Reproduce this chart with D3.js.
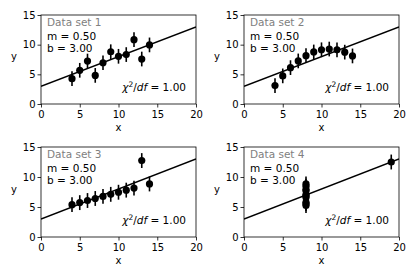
<!DOCTYPE html>
<html><head><meta charset="utf-8">
<script src="https://cdn.jsdelivr.net/npm/d3@7"></script>
<style>body{margin:0;background:#fff}text{font-family:"DejaVu Sans",sans-serif}</style>
</head><body><svg id="c" width="415" height="277"></svg>
<script>
const x123 = [10, 8, 13, 9, 11, 14, 6, 4, 12, 7, 5];
const x4 = [8, 8, 8, 8, 8, 8, 8, 19, 8, 8, 8];
const y1 = [8.04, 6.95, 7.58, 8.81, 8.33, 9.96, 7.24, 4.26, 10.84, 4.82, 5.68];
const y2 = [9.14, 8.14, 8.74, 8.77, 9.26, 8.10, 6.13, 3.10, 9.13, 7.26, 4.74];
const y3 = [7.46, 6.77, 12.74, 7.11, 7.81, 8.84, 6.08, 5.39, 8.15, 6.42, 5.73];
const y4 = [6.58, 5.76, 7.71, 8.84, 8.47, 7.04, 5.25, 12.50, 5.56, 7.91, 6.89];
const yErr = 1.24;
const slope = 0.5, intercept = 3.0;
const titles = ["Data set 1", "Data set 2", "Data set 3", "Data set 4"];
const xTicks = [0, 5, 10, 15, 20];
const yTicks = [0, 5, 10, 15];
const sets = [[x123, y1], [x123, y2], [x123, y3], [x4, y4]];

const svg = d3.select("#c");
const cols = [[41, 196], [244, 399]];
const rows = [[15, 104], [147, 237]];

sets.forEach((s, i) => {
  const [xr, yr] = [cols[i % 2], rows[Math.floor(i / 2)]];
  const x = d3.scaleLinear().domain([0, 20]).range(xr);
  const y = d3.scaleLinear().domain([0, 15]).range([yr[1], yr[0]]);
  const g = svg.append("g");
  const clipId = "clip" + i;
  g.append("clipPath").attr("id", clipId).append("rect")
    .attr("x", xr[0]).attr("y", yr[0]).attr("width", xr[1] - xr[0]).attr("height", yr[1] - yr[0]);
  const pg = g.append("g").attr("clip-path", `url(#${clipId})`);
  pg.append("line").attr("x1", x(0)).attr("x2", x(20))
    .attr("y1", y(intercept)).attr("y2", y(intercept + slope * 20))
    .attr("stroke", "#000").attr("stroke-width", 1.5);
  const pts = s[0].map((xv, k) => ({ x: xv, y: s[1][k] }));
  pg.selectAll(".eb").data(pts).enter().append("line")
    .attr("x1", d => x(d.x)).attr("x2", d => x(d.x))
    .attr("y1", d => y(d.y - yErr)).attr("y2", d => y(d.y + yErr))
    .attr("stroke", "#000").attr("stroke-width", 1.6);
  pg.selectAll(".pt").data(pts).enter().append("circle")
    .attr("cx", d => x(d.x)).attr("cy", d => y(d.y)).attr("r", 3.6).attr("fill", "#000");

  const ax = g.append("g").attr("transform", `translate(0,${yr[1]})`)
    .call(d3.axisBottom(x).tickValues(xTicks).tickSize(3.5).tickPadding(3.5));
  const ay = g.append("g").attr("transform", `translate(${xr[0]},0)`)
    .call(d3.axisLeft(y).tickValues(yTicks).tickSize(3.5).tickPadding(2));
  [ax, ay].forEach(a => {
    a.select(".domain").remove();
    a.selectAll("line").attr("stroke", "#000").attr("stroke-width", 0.8);
    a.selectAll("text").attr("font-size", 10).attr("fill", "#000")
      .style("font-family", "DejaVu Sans");
  });
  g.append("rect").attr("x", xr[0]).attr("y", yr[0]).attr("width", xr[1] - xr[0]).attr("height", yr[1] - yr[0])
    .attr("fill", "none").attr("stroke", "#000").attr("stroke-width", 0.8);

  g.append("text").attr("x", (xr[0] + xr[1]) / 2).attr("y", yr[1] + 26.5).attr("text-anchor", "middle")
    .attr("font-size", 10).text("x");
  g.append("text").attr("x", xr[0] - 27).attr("y", (yr[0] + yr[1]) / 2 + 0.5).attr("text-anchor", "middle")
    .attr("font-size", 10).text("y");

  g.append("text").attr("x", xr[0] + 6).attr("y", yr[0] + 11).attr("font-size", 10.5)
    .attr("fill", "#808080").text(titles[i]);
  g.append("text").attr("x", xr[0] + 6).attr("y", yr[0] + 25).attr("font-size", 10.5)
    .text(`m = ${slope.toFixed(2)}`);
  g.append("text").attr("x", xr[0] + 6).attr("y", yr[0] + 37).attr("font-size", 10.5)
    .text(`b = ${intercept.toFixed(2)}`);
  const t = g.append("text").attr("x", xr[1] - 10).attr("y", yr[1] - 13).attr("font-size", 10.5)
    .attr("text-anchor", "end");
  t.append("tspan").attr("font-style", "italic").text("χ");
  t.append("tspan").attr("font-size", 7.5).attr("dy", -4).text("2");
  t.append("tspan").attr("dy", 4).text("/");
  t.append("tspan").attr("font-style", "italic").text("df");
  t.append("tspan").text(" = 1.00");
});
</script></body></html>
